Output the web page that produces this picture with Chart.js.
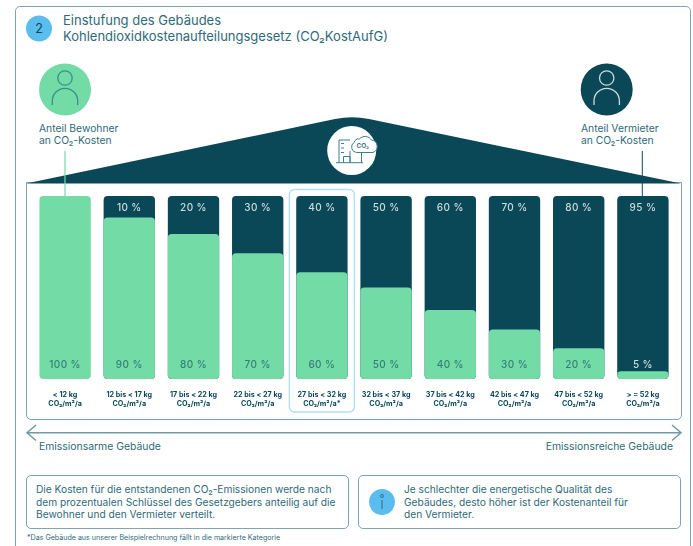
<!DOCTYPE html>
<html lang="de">
<head>
<meta charset="UTF-8">
<title>Einstufung des Gebäudes</title>
<style>
    body{ margin:0; background:#fff; width:693px; height:546px; overflow:hidden; position:relative; font-family:'Inter',sans-serif; color:#2f6a7a; }
    .t{ position:absolute; white-space:nowrap; }
    .frame{ position:absolute; box-sizing:border-box; border:1.5px solid #7fa5b0; border-radius:5px; }
    svg,canvas{ position:absolute; left:0; }
</style>
<script src="https://cdn.jsdelivr.net/npm/chart.js"></script>
</head>
<body>
<div class="frame" style="left:15px;top:6px;width:676px;height:570px;"></div>
<div class="frame" style="left:26px;top:182px;width:656px;height:238px;border-top-left-radius:0;border-top-right-radius:0;"></div>
<div class="frame" style="left:26px;top:475px;width:323px;height:54px;"></div>
<div class="frame" style="left:358px;top:475px;width:323px;height:54px;"></div>

<svg width="693" height="546" style="top:0">
    <circle cx="39" cy="28.5" r="13" fill="#5bbdee"/>
    <text x="39" y="33" text-anchor="middle" font-family="Inter" font-size="12.5" fill="#0a4858">2</text>
    <circle cx="65" cy="89.5" r="26" fill="#72dba6"/>
    <circle cx="65" cy="78" r="7.2" fill="none" stroke="#3c8f88" stroke-width="1.3"/>
    <path d="M52.3 105v-4a12.7 12.7 0 0 1 25.4 0v4" fill="none" stroke="#3c8f88" stroke-width="1.3"/>
    <circle cx="606.7" cy="89.5" r="26" fill="#0a4858"/>
    <circle cx="606.7" cy="78" r="7.2" fill="none" stroke="#c8dcdf" stroke-width="1.3"/>
    <path d="M594 105v-4a12.7 12.7 0 0 1 25.4 0v4" fill="none" stroke="#c8dcdf" stroke-width="1.3"/>
    <path d="M26 183.5L335 119Q352 115.500 369 119L681 183.500Z" fill="#0a4858"/>
    <circle cx="351.700" cy="150.500" r="24.500" fill="#fff"/>
    <g fill="none" stroke="#3f7f8c" stroke-width="1">
        <path d="M336 162.700H363M339 162.700V140H350M343.500 162.700V156.500H350V162.700M350 151V162.700M361.500 152V162.700"/>
        <path d="M341 143.500h3M341 148h3M341 152.500h3"/>
        <path d="M356.500 152.500a5.500 5.500 0 0 1-2.500-10a5 5 0 0 1 5.500-3.500a7.500 7.500 0 0 1 12 1a6.500 6.500 0 0 1 1.500 12.500Z" fill="#fff"/>
    </g>
    <text x="356.500" y="148" font-family="Inter" font-size="6.500" font-weight="700" fill="#3f7f8c">CO₂</text>
    <line x1="65" y1="151" x2="65" y2="197" stroke="#72dba6" stroke-width="1.2"/>
    <line x1="642.300" y1="151" x2="642.300" y2="197" stroke="#0a4858" stroke-width="1"/>
    <g fill="none" stroke="#6f9aa6" stroke-width="1.500">
        <path d="M27 432.700H681M36 425L27 432.700L36 440.500M672 425L681 432.700L672 440.500"/>
    </g>
    <circle cx="382" cy="502" r="13" fill="#5bbdee"/>
    <circle cx="382" cy="496" r="1.500" fill="none" stroke="#2f6a7a" stroke-width="0.9"/>
    <line x1="382" y1="500" x2="382" y2="509" stroke="#2f6a7a" stroke-width="1"/>
</svg>

<div class="t" style="left:63px;top:13px;font-size:13px;line-height:15.500px;">Einstufung des Gebäudes<br>Kohlendioxidkostenaufteilungsgesetz (CO₂KostAufG)</div>
<div class="t" style="left:39px;top:122px;font-size:10.300px;line-height:12px;">Anteil Bewohner<br>an CO₂-Kosten</div>
<div class="t" style="left:581px;top:122px;font-size:10.300px;line-height:12px;">Anteil Vermieter<br>an CO₂-Kosten</div>
<div class="t" style="left:39px;top:441px;font-size:10.400px;line-height:12px;">Emissionsarme Gebäude</div>
<div class="t" style="right:20px;top:441px;font-size:10.400px;line-height:12px;">Emissionsreiche Gebäude</div>
<div class="t" style="left:36px;top:483px;font-size:10.200px;line-height:12.500px;">Die Kosten für die entstandenen CO₂-Emissionen werde nach<br>dem prozentualen Schlüssel des Gesetzgebers anteilig auf die<br>Bewohner und den Vermieter verteilt.</div>
<div class="t" style="left:404px;top:483px;font-size:10.200px;line-height:12.500px;">Je schlechter die energetische Qualität des<br>Gebäudes, desto höher ist der Kostenanteil für<br>den Vermieter.</div>
<div class="t" style="left:27px;top:534px;font-size:7.100px;line-height:8px;">*Das Gebäude aus unserer Beispielrechnung fällt in die markierte Kategorie</div>

<canvas id="myChart" width="693" height="235" style="top:180px"></canvas>

<script>
    const categories = [
        ['< 12 kg', 'CO₂/m²/a'],
        ['12 bis < 17 kg', 'CO₂/m²/a'],
        ['17 bis < 22 kg', 'CO₂/m²/a'],
        ['22 bis < 27 kg', 'CO₂/m²/a'],
        ['27 bis < 32 kg', 'CO₂/m²/a*'],
        ['32 bis < 37 kg', 'CO₂/m²/a'],
        ['37 bis < 42 kg', 'CO₂/m²/a'],
        ['42 bis < 47 kg', 'CO₂/m²/a'],
        ['47 bis < 52 kg', 'CO₂/m²/a'],
        ['> = 52 kg', 'CO₂/m²/a']
    ];
    // bar heights as drawn in the picture, the printed labels are rounder
    const bewohnerHeights = [100, 88.2, 79.3, 68.7, 58.3, 50, 37.7, 27.1, 16.8, 4.2];
    const vermieterRail = [0, 100, 100, 100, 100, 100, 100, 100, 100, 100];
    const bewohnerLabels = ['100 %', '90 %', '80 %', '70 %', '60 %', '50 %', '40 %', '30 %', '20 %', '5 %'];
    const vermieterLabels = ['', '10 %', '20 %', '30 %', '40 %', '50 %', '60 %', '70 %', '80 %', '95 %'];
    const markedCategory = 4;

    const percentLabels = {
        id: 'percentLabels',
        beforeDatasetsDraw(chart){
            const c = chart.ctx, x = chart.scales.x.getPixelForValue(markedCategory);
            c.save();
            c.strokeStyle = '#b4dff5';
            c.lineWidth = 1.5;
            c.beginPath();
            c.roundRect(x - 32.5, 9.5, 65, 222.5, 5);
            c.stroke();
            c.restore();
        },
        afterDatasetsDraw(chart){
            const c = chart.ctx, sx = chart.scales.x, sy = chart.scales.y;
            c.save();
            c.font = '500 10px Inter';
            c.textAlign = 'center';
            c.textBaseline = 'middle';
            c.letterSpacing = '0.4px';
            categories.forEach((cat, i) => {
                const x = sx.getPixelForValue(i);
                c.fillStyle = '#c9dde0';
                c.fillText(vermieterLabels[i], x, sy.getPixelForValue(93.4));
                c.fillStyle = i == 9 ? '#c9dde0' : '#347f78';
                c.fillText(bewohnerLabels[i], x, sy.getPixelForValue(7.6));
            });
            c.restore();
        }
    };

    new Chart(document.getElementById('myChart'), {
        type: 'bar',
        data: {
            labels: categories,
            datasets: [
                { label: 'Anteil Bewohner', data: bewohnerHeights, backgroundColor: '#72dba6', borderRadius: 4, borderSkipped: false, grouped: false, order: 1 },
                { label: 'Anteil Vermieter', data: vermieterRail, backgroundColor: '#0a4858', borderRadius: 4, borderSkipped: false, grouped: false, order: 2 }
            ]
        },
        options: {
            responsive: false,
            animation: false,
            categoryPercentage: 1,
            barPercentage: 0.8,
            layout: { padding: { left: 33, right: 18, top: 16, bottom: 0 } },
            plugins: { legend: { display: false }, tooltip: { enabled: false } },
            scales: {
                x: {
                    grid: { display: false },
                    border: { display: false },
                    afterFit: s => { s.height = 36; },
                    ticks: { color: '#0a4858', padding: 3, maxRotation: 0, autoSkip: false, font: { family: 'Inter', size: 7.2, weight: '700', lineHeight: 1.25 } }
                },
                y: { display: false, min: 0, max: 100 }
            }
        },
        plugins: [percentLabels]
    });
</script>
</body>
</html>
